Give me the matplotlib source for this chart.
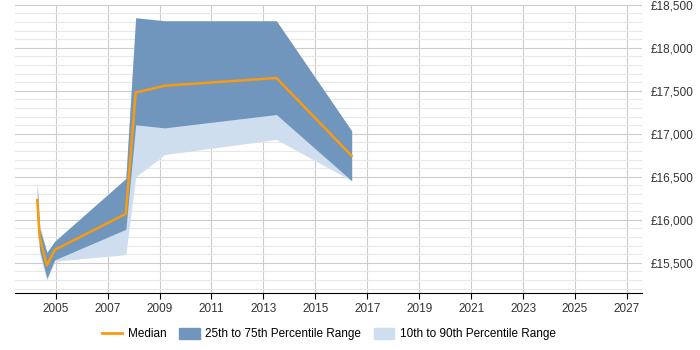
import matplotlib.pyplot as plt
from matplotlib.ticker import MultipleLocator, FuncFormatter
from matplotlib.patches import Patch
from matplotlib.lines import Line2D

plt.rcParams['font.family'] = ['Liberation Sans', 'DejaVu Sans']

# dates as decimal years, values in GBP
years = [2004.29, 2004.38, 2004.66, 2004.96, 2007.70, 2008.08, 2009.20, 2013.50, 2016.40]
median = [16230, 15800, 15470, 15650, 16070, 17480, 17560, 17650, 16745]
p25 = [16050, 15650, 15320, 15535, 15890, 17105, 17070, 17225, 16455]
p75 = [16400, 15900, 15620, 15750, 16480, 18350, 18315, 18315, 17035]
p10 = [16000, 15600, 15300, 15520, 15595, 16500, 16760, 16935, 16455]
p90 = [16450, 15950, 15630, 15755, 16480, 18350, 18315, 18315, 17035]

dark = "#7096bd"
light = "#cfdeee"
orange = "#f89b10"

fig = plt.figure(figsize=(7, 3.5), dpi=100)
ax = fig.add_axes([0.021, 0.163, 0.896, 0.823])

ax.fill_between(years, p10, p90, color=light, lw=0, zorder=2)
ax.fill_between(years, p25, p75, color=dark, lw=0, zorder=3)
ax.plot(years, median, color=orange, lw=1.8, zorder=4)

ax.set_xlim(2003.42, 2027.58)
ax.set_ylim(15150, 18500)
ax.set_xticks(range(2005, 2028, 2))
ax.yaxis.set_major_locator(MultipleLocator(500))
ax.yaxis.set_minor_locator(MultipleLocator(100))
ax.yaxis.set_major_formatter(FuncFormatter(lambda v, p: "£{:,.0f}".format(v)))
ax.yaxis.tick_right()

ax.grid(which="major", color="#cccccc", lw=0.8, zorder=0)
ax.grid(which="minor", axis="y", color="#e8e8e8", lw=0.8, zorder=0)
ax.set_axisbelow(True)
for s in ["top", "left", "right"]:
    ax.spines[s].set_visible(False)
ax.spines["bottom"].set_color("black")
ax.tick_params(axis="y", which="both", length=0, labelsize=8.5, colors="#333333", pad=6)
ax.tick_params(axis="x", length=4, labelsize=8.5, colors="black", labelcolor="#333333")

handles = [Line2D([], [], color=orange, lw=2),
           Patch(color=dark), Patch(color=light)]
labels = ["Median", "25th to 75th Percentile Range", "10th to 90th Percentile Range"]
fig.legend(handles, labels, loc="center", bbox_to_anchor=(0.47, 0.045), ncol=3,
           frameon=False, fontsize=8.5, handlelength=1.7, handleheight=1.0,
           handletextpad=0.5, columnspacing=1.1)

fig.savefig("out.png", dpi=100)
